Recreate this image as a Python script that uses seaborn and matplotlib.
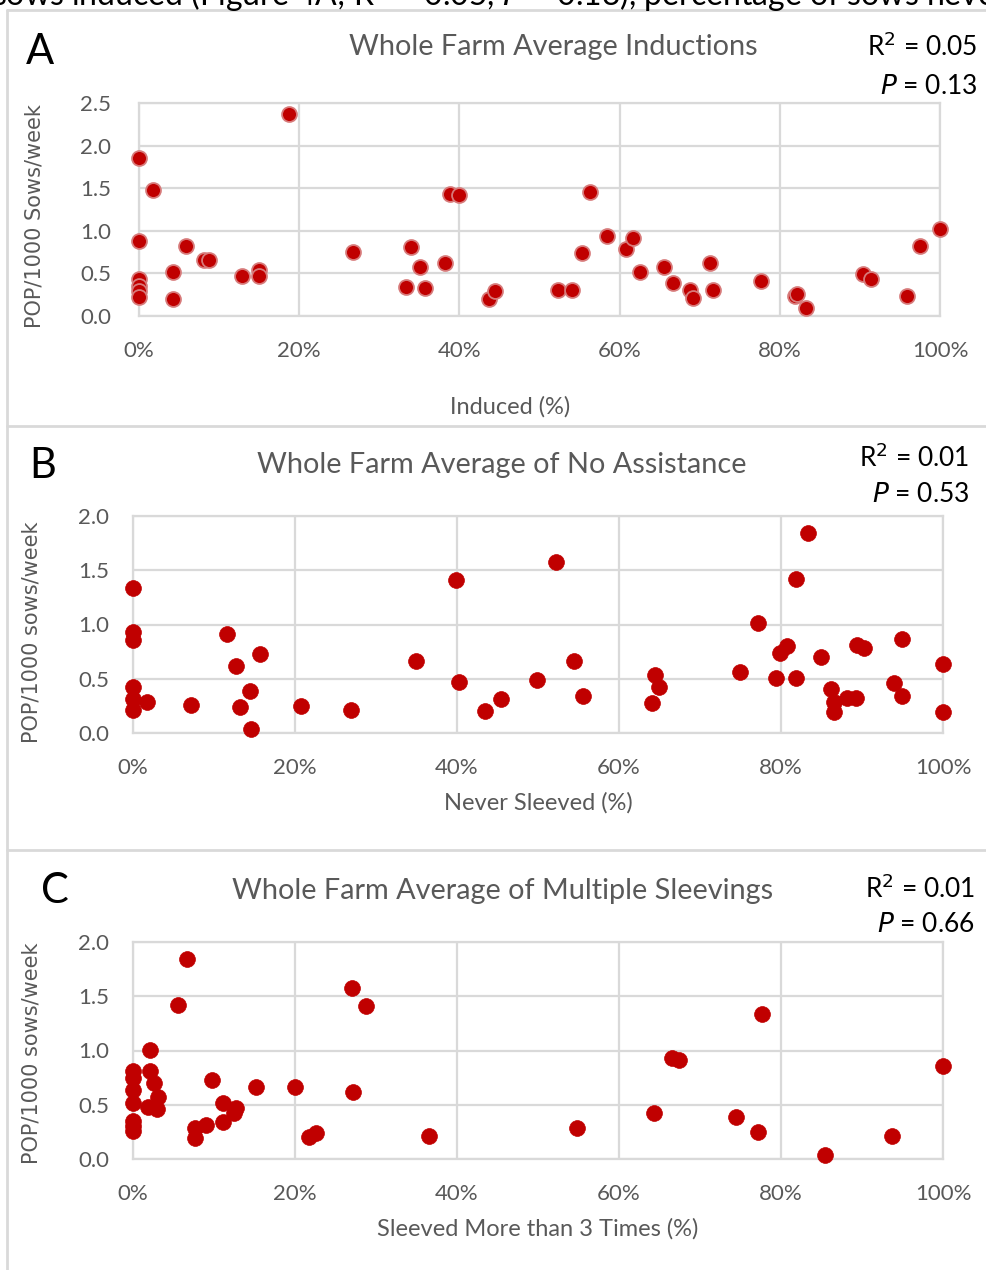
import matplotlib
matplotlib.use("Agg")
import matplotlib.pyplot as plt
import seaborn as sns
import pandas as pd

# panel A: induced (%) vs POP
induced_pct = [0, 0, 0, 0, 0, 0, 1.7, 4.3, 4.3, 5.9, 8.1, 8.7, 12.8, 15.0, 15.0,
               18.7, 26.7, 33.3, 34.0, 35.1, 35.7, 38.2, 38.8, 40.0, 43.7, 44.5,
               52.3, 54.1, 55.3, 56.3, 58.4, 60.8, 61.7, 62.5, 65.6, 66.7, 68.8,
               69.2, 71.3, 71.7, 77.7, 81.9, 82.2, 83.3, 90.4, 91.4, 95.9, 97.5, 100]
pop_a = [1.85, 0.88, 0.44, 0.35, 0.29, 0.22, 1.48, 0.52, 0.20, 0.82, 0.66, 0.66,
         0.47, 0.54, 0.47, 2.37, 0.75, 0.34, 0.81, 0.57, 0.33, 0.62, 1.43, 1.42,
         0.20, 0.29, 0.31, 0.31, 0.74, 1.46, 0.94, 0.79, 0.92, 0.52, 0.57, 0.39,
         0.31, 0.21, 0.62, 0.31, 0.41, 0.24, 0.26, 0.09, 0.49, 0.43, 0.24, 0.82, 1.02]

# panel B: never sleeved (%) vs POP
never_pct = [0, 0, 0, 0, 0, 0, 1.7, 7.1, 11.6, 12.7, 13.2, 14.5, 14.6, 15.7, 20.8,
             26.9, 34.9, 39.9, 40.3, 43.4, 45.4, 49.9, 52.2, 54.4, 55.6, 64.1,
             64.4, 65.0, 75.0, 77.1, 79.4, 79.9, 80.8, 81.9, 81.9, 83.3, 85.0,
             86.2, 86.5, 86.5, 88.1, 89.2, 89.4, 90.2, 94.0, 95.0, 95.0, 100, 100]
pop_b = [1.34, 0.93, 0.86, 0.42, 0.31, 0.215, 0.285, 0.255, 0.91, 0.62, 0.24, 0.39,
         0.04, 0.73, 0.25, 0.21, 0.66, 1.41, 0.47, 0.20, 0.31, 0.485, 1.58, 0.66,
         0.34, 0.28, 0.53, 0.42, 0.565, 1.01, 0.51, 0.74, 0.80, 1.42, 0.51, 1.84,
         0.70, 0.405, 0.29, 0.19, 0.32, 0.32, 0.81, 0.785, 0.46, 0.865, 0.34, 0.64, 0.19]

# panel C: sleeved more than 3 times (%) vs POP
multi_pct = [0, 0, 0, 0, 0, 0, 0, 1.85, 2.06, 2.14, 2.55, 3.0, 3.1, 5.56, 6.67,
             7.7, 7.7, 9.05, 9.8, 11.1, 11.1, 12.5, 12.7, 15.2, 20.0, 21.7, 22.6,
             27.0, 27.2, 28.8, 36.5, 54.8, 64.3, 66.6, 67.4, 74.5, 77.1, 77.6,
             85.4, 93.7, 100]
pop_c = [0.81, 0.745, 0.64, 0.515, 0.35, 0.30, 0.255, 0.48, 1.006, 0.81, 0.70, 0.46,
         0.57, 1.42, 1.84, 0.285, 0.19, 0.31, 0.73, 0.52, 0.34, 0.42, 0.47, 0.66,
         0.66, 0.20, 0.24, 1.58, 0.62, 1.41, 0.21, 0.285, 0.42, 0.93, 0.91, 0.39,
         0.25, 1.34, 0.04, 0.215, 0.86]

letters = ["A", "B", "C"]
titles = ["Whole Farm Average Inductions", "Whole Farm Average of No Assistance",
          "Whole Farm Average of Multiple Sleevings"]
xlabels = ["Induced (%)", "Never Sleeved (%)", "Sleeved More than 3 Times (%)"]
ylabels = ["POP/1000 Sows/week", "POP/1000 sows/week", "POP/1000 sows/week"]
r2_vals = ["0.05", "0.01", "0.01"]
p_vals = ["0.13", "0.53", "0.66"]
y_tops = [2.5, 2.0, 2.0]

sns.set_theme(style="white")
plt.rcParams['font.family'] = ['Lato', 'DejaVu Sans']

W, H = 987, 1270
fig = plt.figure(figsize=(W / 100, H / 100), dpi=100)
fig.patch.set_facecolor("white")


def rect(l, t, r, b):
    return [l / W, 1 - b / H, (r - l) / W, (b - t) / H]


def fx(x):
    return x / W


def fy(y):
    return 1 - y / H


grey = "#595959"
grid_c = "#d9d9d9"
red = "#c00000"

# panel frames
for yy in [10, 426, 850]:
    fig.add_artist(plt.Line2D([fx(7), 1.0], [fy(yy), fy(yy)], color=grid_c, lw=2))
fig.add_artist(plt.Line2D([fx(7), fx(7)], [fy(10), 0], color=grid_c, lw=2))

# sentence from the page above the figure, cut off by the crop as in the source
fig.text(fx(-8), fy(6), "sows induced (Figure 4A; R$^2$ = 0.05, $P$ = 0.13), percentage of sows never",
         fontsize=23, color="black", va="baseline", ha="left")

boxes = [(139, 103, 940, 316), (133, 516, 943, 733), (133, 942, 943, 1159)]
datasets = [(induced_pct, pop_a), (never_pct, pop_b), (multi_pct, pop_c)]
letter_pos = [(40, 52), (43, 466), (55, 891)]
title_pos = [(553, 47), (502, 465), (503, 891)]
r2_pos = [(977, 47), (969, 458), (975, 889)]
p_pos = [(977, 86), (969, 494), (975, 925)]
ylab_pos = [(35, 216), (32, 632), (32, 1053)]
xlab_pos = [(510, 407), (538, 803), (538, 1229)]
msize = [115, 130, 130]

for i in range(3):
    ax = fig.add_axes(rect(*boxes[i]))
    df = pd.DataFrame({"x": datasets[i][0], "y": datasets[i][1]})
    if i == 0:
        sns.scatterplot(data=df, x="x", y="y", ax=ax, color=red, s=msize[i],
                        edgecolor="#d77a7a", linewidth=1.3, zorder=5, clip_on=False)
    else:
        sns.scatterplot(data=df, x="x", y="y", ax=ax, color=red, s=msize[i],
                        edgecolor=red, linewidth=0.5, zorder=5, clip_on=False)
    ax.set_xlim(0, 100)
    ax.set_ylim(0, y_tops[i])
    ax.set_xticks([0, 20, 40, 60, 80, 100])
    ax.set_xticklabels([f"{v}%" for v in [0, 20, 40, 60, 80, 100]])
    yt = [k * 0.5 for k in range(int(y_tops[i] / 0.5) + 1)]
    ax.set_yticks(yt)
    ax.set_yticklabels([f"{v:.1f}" for v in yt])
    ax.grid(True, color=grid_c, lw=1.6)
    ax.set_axisbelow(True)
    for sp in ax.spines.values():
        sp.set_color(grid_c)
        sp.set_linewidth(1.6)
    ax.tick_params(length=0, labelsize=16, labelcolor=grey)
    ax.tick_params(axis="y", pad=20 if i == 0 else 17)
    ax.tick_params(axis="x", pad=18)
    ax.set_xlabel("")
    ax.set_ylabel("")

    fig.text(fx(letter_pos[i][0]), fy(letter_pos[i][1]), letters[i], fontsize=30,
             ha="center", va="center", color="black")
    fig.text(fx(title_pos[i][0]), fy(title_pos[i][1]), titles[i], fontsize=20.8,
             ha="center", va="center", color=grey)
    fig.text(fx(r2_pos[i][0]), fy(r2_pos[i][1]), f"R$^2$ = {r2_vals[i]}", fontsize=19,
             ha="right", va="center", color="black")
    fig.text(fx(p_pos[i][0]), fy(p_pos[i][1]), f"$P$ = {p_vals[i]}", fontsize=19,
             ha="right", va="center", color="black")
    fig.text(fx(ylab_pos[i][0]), fy(ylab_pos[i][1]), ylabels[i], fontsize=15,
             rotation=90, ha="center", va="center", color=grey,
             family=["DejaVu Sans"])
    fig.text(fx(xlab_pos[i][0]), fy(xlab_pos[i][1]), xlabels[i], fontsize=17,
             ha="center", va="center", color=grey)

fig.savefig("out.png", dpi=100, facecolor="white")
